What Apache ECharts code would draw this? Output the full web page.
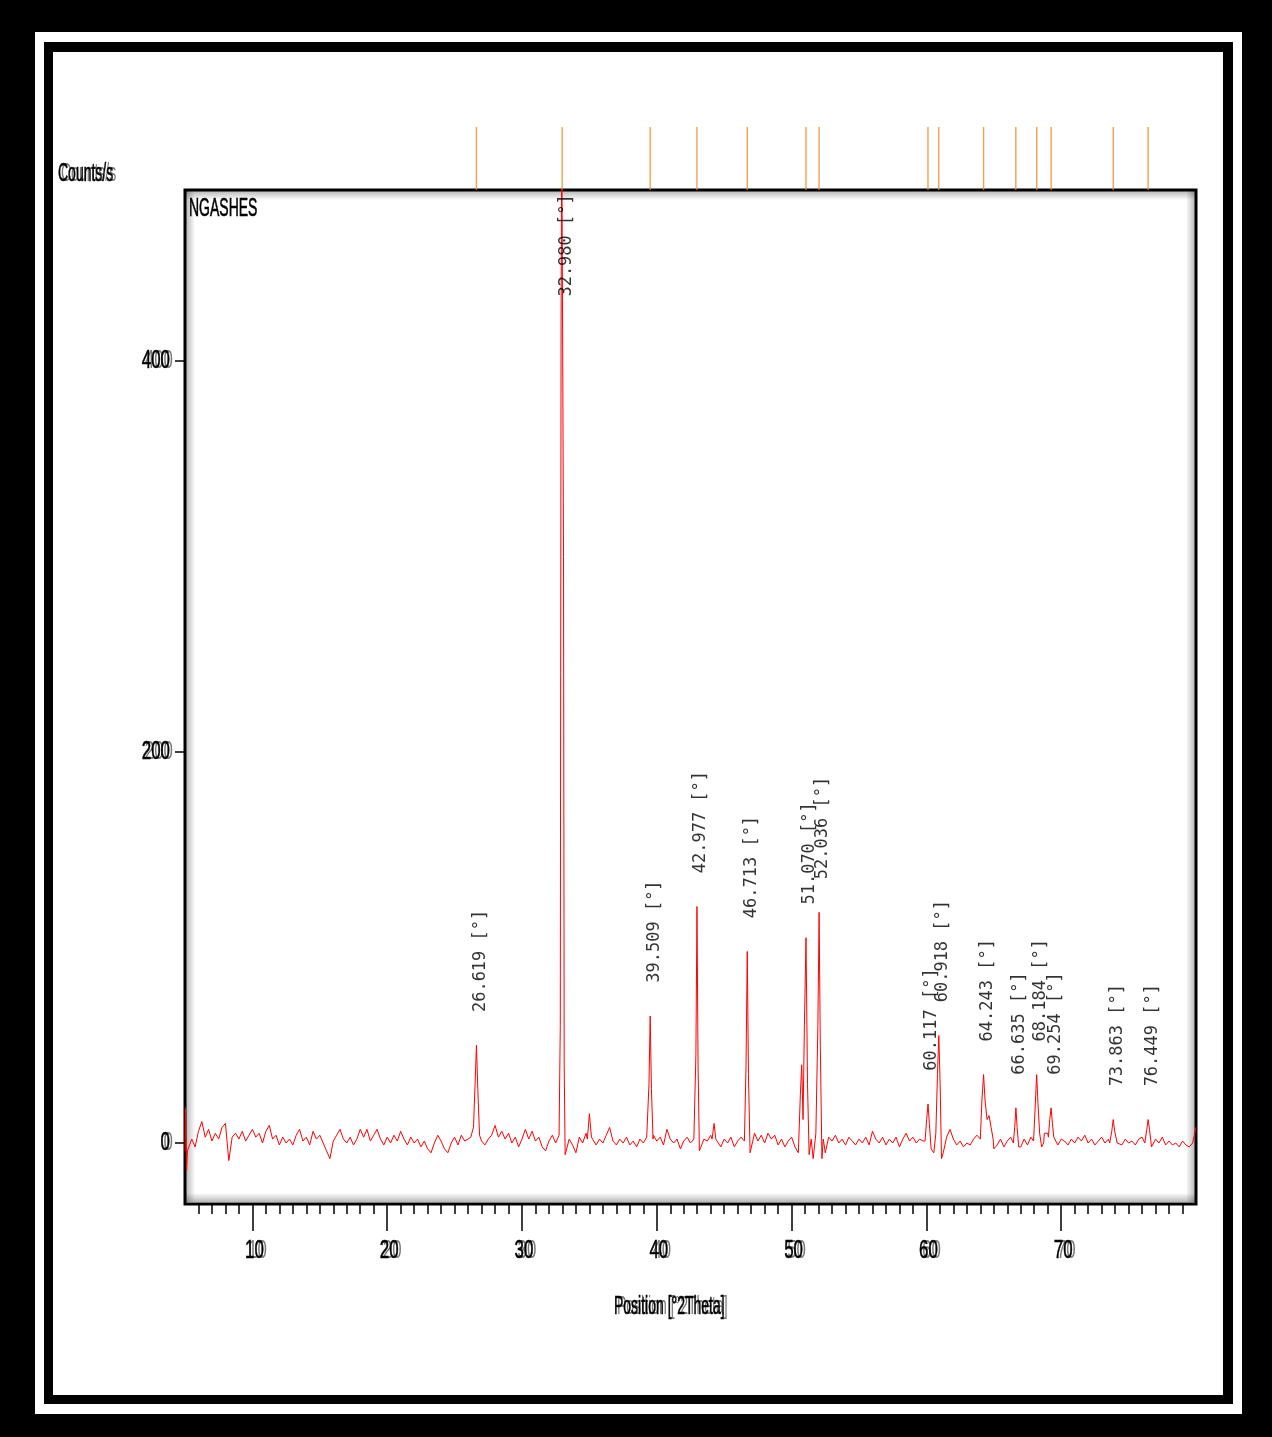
<!DOCTYPE html>
<html>
<head>
<meta charset="utf-8">
<script src="https://cdn.jsdelivr.net/npm/echarts@6/dist/echarts.min.js"></script>
<style>
  body { margin: 0; background: #000; }
  .frame { position: absolute; }
  .f1 { left: 35px; top: 32px; width: 1207px; height: 1382px; background: #fff; }
  .f2 { left: 44px; top: 42px; width: 1189px; height: 1362px; background: #000; }
  .f3 { left: 53px; top: 52px; width: 1170px; height: 1343px; background: #fff; }
  #chart { position: absolute; left: 0; top: 0; width: 1272px; height: 1437px; }
</style>
</head>
<body>
<div class="frame f1"></div>
<div class="frame f2"></div>
<div class="frame f3"></div>
<div id="chart"></div>
<script>
// background scan, one reading every 0.25 deg from 5.25 to 80.00
const baseStart = 5.25
const baseStep = 0.25
const baseCounts = [
  -3, 2, -2, 6, 11, 3, 7, 1, 5, 2, 8, 10, -9, 3, 5, 2, 6, 1, 4, 7,
  3, 5, 0, 6, 9, 2, 4, -1, 3, 0, 2, -1, 4, 7, 1, 3, -1, 6, 2, 4,
  0, -4, -8, 1, 4, 7, 2, 0, 3, -1, 2, 7, 3, 7, 1, 4, 7, 2, -1, 3,
  0, 4, 1, 6, 2, -1, 3, 0, 2, -2, 1, -3, -5, 0, 4, 1, -3, -5, 0, 3,
  -1, 4, 1, 2, 5, 6, 4, 1, -1, 2, 4, 9, 3, 6, 2, 5, 0, 3, -2, 2,
  7, 2, 6, 1, 3, -2, -4, 1, 4, 0, 3, 5, -5, 2, -1, -5, 3, 0, 5, 8,
  3, -1, 2, 0, 4, 8, 1, -1, 2, 0, 3, -1, 1, -2, 2, 0, 3, 5, 4, 1,
  3, -1, 7, 2, 0, 2, -3, 1, 3, 0, 2, 5, -3, 2, 1, 4, 6, 3, -2, 2,
  0, 3, -2, 1, 3, 5, 5, -4, 5, 1, 4, 0, 5, 2, 4, -1, 2, -2, 1, 3,
  -2, -5, 5, 5, 5, 5, 5, 5, 5, -5, 3, 1, 4, 0, 2, -1, 3, 1, -1, 2,
  0, 3, -1, 6, 2, 0, 3, -1, 2, 0, 3, -2, 2, 5, 1, 3, 0, 2, 1, 3,
  3, 3, 3, 3, -5, 3, 7, 2, -1, 1, -2, 0, -1, 2, 4, 5, 5, 5, 5, -3,
  -1, 2, -2, 1, 3, 5, 5, -2, 2, -1, 3, 5, 5, 5, 5, 5, 5, 3, -1, 2,
  1, -1, 2, 0, 3, 1, 4, 0, 2, -1, 1, 3, 0, 2, 5, 5, 1, -1, 2, 0,
  1, -1, 2, 3, 5, 5, -2, 2, 0, 3, -1, 1, -1, 0, -2, 1, -1, -2, 0, 8
]

// peak profiles [2theta, counts]
const peakProfiles = [
  [[5.0, -4], [5.04, 18], [5.08, -2], [5.12, -14], [5.18, -4]],
  [[26.2, 3], [26.4, 8], [26.52, 30], [26.62, 50], [26.72, 28], [26.85, 4]],
  [[32.75, 4], [32.84, 60], [32.9, 420], [32.95, 520], [33.03, 520], [33.08, 300], [33.13, 40], [33.2, -6]],
  [[34.85, 2], [35.0, 15], [35.15, 3]],
  [[39.3, 2], [39.42, 30], [39.51, 65], [39.6, 28], [39.72, 2]],
  [[42.8, 3], [42.9, 45], [42.98, 121], [43.06, 40], [43.16, -4]],
  [[44.1, 2], [44.25, 10], [44.38, 2]],
  [[46.5, 1], [46.62, 40], [46.71, 98], [46.8, 35], [46.92, -5]],
  [[50.55, -5], [50.65, 25], [50.75, 40], [50.85, 12], [50.95, 60], [51.07, 105], [51.18, 30], [51.3, -6],
   [51.45, 2], [51.6, -8], [51.8, 5], [51.95, 60], [52.04, 118], [52.13, 50], [52.25, -8], [52.35, 2]],
  [[59.9, 1], [60.02, 12], [60.12, 20], [60.22, 10], [60.35, -3], [60.55, -5], [60.7, 5], [60.82, 35],
   [60.92, 55], [61.02, 30], [61.12, -8], [61.25, -5]],
  [[64.0, 2], [64.12, 22], [64.24, 35], [64.35, 22], [64.5, 12], [64.65, 14], [64.8, 8], [64.95, 2]],
  [[66.45, 0], [66.55, 8], [66.64, 18], [66.73, 8], [66.85, -2]],
  [[67.95, 1], [68.08, 20], [68.18, 35], [68.28, 20], [68.4, 5], [68.55, -2], [68.7, 0]],
  [[69.05, 3], [69.15, 12], [69.25, 18], [69.35, 10], [69.45, 3]],
  [[73.6, 0], [73.75, 6], [73.86, 12], [73.97, 6], [74.15, 0]],
  [[76.2, 0], [76.35, 7], [76.45, 12], [76.55, 7], [76.7, -2]]
]

// identified peaks
const peakPositions = [26.619, 32.980, 39.509, 42.977, 46.713, 51.070, 52.036, 60.117, 60.918, 64.243, 66.635, 68.184, 69.254, 73.863, 76.449]
const peakHeights = [50, 500, 65, 121, 98, 105, 118, 20, 55, 35, 18, 35, 18, 12, 12]

const xTicks = [10, 20, 30, 40, 50, 60, 70]
const yTicks = [0, 200, 400]

// merge background and peaks
const windows = peakProfiles.map(p => [p[0][0], p[p.length - 1][0]])
const pattern = []
baseCounts.forEach((c, i) => {
  const t = +(baseStart + i * baseStep).toFixed(2)
  if (!windows.some(w => t >= w[0] && t <= w[1])) pattern.push([t, c])
})
peakProfiles.forEach(p => p.forEach(pt => pattern.push(pt)))
pattern.sort((a, b) => a[0] - b[0])

const minorTicks = []
for (let t = 6; t < 80; t++) minorTicks.push(t)

const labelAnchors = peakPositions.map((p, i) => [p, Math.min(peakHeights[i] + 18, 434)])

const chart = echarts.init(document.getElementById('chart'))

// condensed text with grey ghost copy, like the instrument printout
function squeezed(text, x, y, size, ghost, align, scale) {
  const items = []
  const style = { text: text, font: size + 'px "Liberation Sans", Arial, sans-serif', align: align || 'left', verticalAlign: 'middle' }
  if (ghost) {
    items.push({ type: 'text', x: x + 3, y: y, scaleX: scale || 0.56, z: 10, style: Object.assign({}, style, { fill: '#7a7a7a' }) })
  }
  items.push({ type: 'text', x: x, y: y, scaleX: scale || 0.56, z: 11, style: Object.assign({}, style, { fill: '#000', stroke: '#000', lineWidth: 0.6 }) })
  return items
}

function shade(x, y, w, h, c) {
  const g = new echarts.graphic.LinearGradient(c[0], c[1], c[2], c[3], [
    { offset: 0, color: 'rgba(0,0,0,0.28)' },
    { offset: 1, color: 'rgba(0,0,0,0)' }
  ])
  return { type: 'rect', shape: { x: x, y: y, width: w, height: h }, style: { fill: g }, silent: true }
}

const option = {
  animation: false,
  backgroundColor: 'transparent',
  grid: [
    { left: 185, top: 190, width: 1011, height: 1014, show: true, borderColor: '#000', borderWidth: 3, backgroundColor: 'transparent' },
    { left: 185, top: 127, width: 1011, height: 63 }
  ],
  xAxis: [
    {
      type: 'value', gridIndex: 0, min: 5, max: 80, position: 'bottom',
      splitLine: { show: false },
      axisLine: { show: false, onZero: false },
      axisTick: { show: true, customValues: xTicks, length: 27, lineStyle: { color: '#000', width: 1.5 } },
      axisLabel: { show: false }
    },
    {
      type: 'value', gridIndex: 0, min: 5, max: 80, position: 'bottom',
      splitLine: { show: false },
      axisLine: { show: false, onZero: false },
      axisTick: { show: true, customValues: minorTicks, length: 10, lineStyle: { color: '#000', width: 1.5 } },
      axisLabel: { show: false }
    },
    { type: 'value', gridIndex: 1, min: 5, max: 80, show: false }
  ],
  yAxis: [
    {
      type: 'value', gridIndex: 0, min: -31.2, max: 487.5,
      splitLine: { show: false },
      axisLine: { show: false, onZero: false },
      axisTick: { show: true, customValues: yTicks, length: 10, lineStyle: { color: '#000', width: 1.5 } },
      axisLabel: { show: false }
    },
    { type: 'value', gridIndex: 1, min: 0, max: 1, show: false }
  ],
  series: [
    {
      type: 'line',
      xAxisIndex: 0, yAxisIndex: 0,
      data: pattern,
      showSymbol: false,
      symbol: 'none',
      clip: true,
      lineStyle: { color: '#ff0000', width: 1 },
      z: 5
    },
    {
      type: 'scatter',
      xAxisIndex: 0, yAxisIndex: 0,
      data: labelAnchors,
      symbolSize: 2,
      itemStyle: { color: 'rgba(0,0,0,0)' },
      z: 6,
      label: {
        show: true,
        position: 'inside',
        rotate: 90,
        align: 'left',
        verticalAlign: 'middle',
        offset: [-2, 4],
        fontFamily: 'DejaVu Sans Mono',
        fontSize: 17,
        color: '#000',
        formatter: p => p.value[0].toFixed(3) + ' [°]'
      }
    },
    {
      type: 'scatter',
      xAxisIndex: 2, yAxisIndex: 1,
      data: peakPositions.map(p => [p, 0.5]),
      symbol: 'rect',
      symbolSize: [1.4, 63],
      itemStyle: { color: '#f28a1e' }
    }
  ]
}

chart.setOption(option)

// tick labels placed through the axes' own scales
let texts = []
xTicks.forEach(t => {
  const px = chart.convertToPixel({ xAxisIndex: 0, yAxisIndex: 0 }, [t, 0])
  texts = texts.concat(squeezed(String(t), px[0] + 2, 1251, 26, true, 'center', 0.65))
})
yTicks.forEach(t => {
  const px = chart.convertToPixel({ xAxisIndex: 0, yAxisIndex: 0 }, [5, t])
  texts = texts.concat(squeezed(String(t), 170, px[1], 26, true, 'right', 0.65))
})

chart.setOption({
  graphic: [
    shade(186, 191, 1009, 9, [0, 0, 0, 1]),
    shade(186, 1193, 1009, 9, [0, 1, 0, 0]),
    shade(186, 191, 9, 1011, [0, 0, 1, 0]),
    shade(1186, 191, 9, 1011, [1, 0, 0, 0])
  ]
    .concat(squeezed('Counts/s', 58, 174, 25, true))
    .concat(squeezed('Position [°2Theta]', 614, 1307, 25, true))
    .concat(squeezed('NGASHES', 189, 209, 25, false))
    .concat(texts)
})
</script>
</body>
</html>
